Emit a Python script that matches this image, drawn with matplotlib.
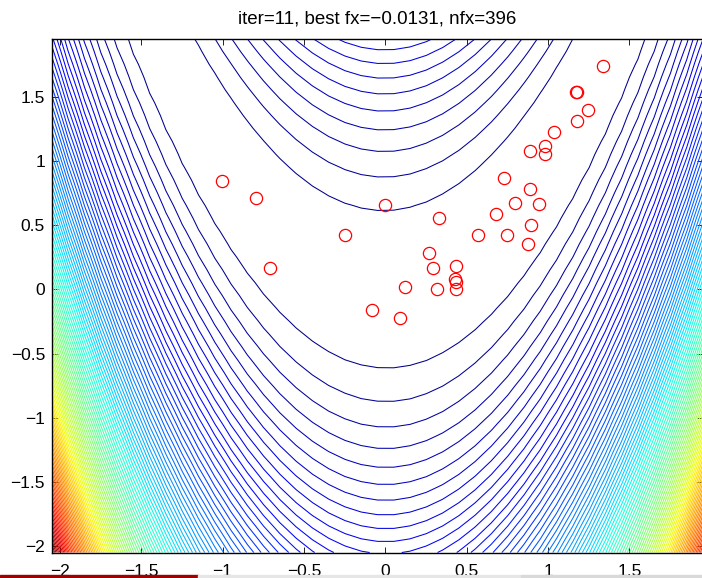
import numpy as np
import matplotlib
matplotlib.use("Agg")
import matplotlib.pyplot as plt
from matplotlib.patches import Rectangle

plt.rcParams['font.family'] = ['Liberation Sans', 'DejaVu Sans']

# grelha da funcao de Rosenbrock (passo 0.1, como no original)
grid_x = np.arange(-2.048, 2.0, 0.1)
grid_y = np.arange(-2.048, 2.0, 0.1)
n_levels = 100

# pontos da populacao
pop_x = [1.337, 1.169, 1.175, 1.246, 1.177, 1.038, 0.979, 0.979, 0.889, 0.730,
         0.889, 0.799, 0.946, 0.679, 0.897, 0.570, 0.750, 0.879, 0.329, 0.000,
         -0.250, 0.268, 0.290, 0.437, 0.429, 0.437, 0.437, 0.121, 0.319, -0.080,
         0.090, -0.709, -0.797, -1.001]
pop_y = [1.740, 1.533, 1.533, 1.398, 1.312, 1.222, 1.115, 1.053, 1.074, 0.864,
         0.781, 0.672, 0.661, 0.584, 0.503, 0.423, 0.423, 0.353, 0.553, 0.654,
         0.423, 0.282, 0.163, 0.181, 0.082, 0.054, 0.002, 0.020, 0.002, -0.159,
         -0.226, 0.163, 0.713, 0.843]

titulo = "iter=11, best fx=\u22120.0131, nfx=396"
ticks = [-2, -1.5, -1, -0.5, 0, 0.5, 1, 1.5]

X, Y = np.meshgrid(grid_x, grid_y)
Z = 100 * (Y - X ** 2) ** 2 + (1 - X) ** 2
levels = np.linspace(Z.min(), Z.max(), n_levels + 2)[1:-1]

W, H = 702, 578
fig = plt.figure(figsize=(W / 100, H / 100), dpi=100)
ax = fig.add_axes([52 / W, (H - 552.5) / H, (703 - 52) / W, (552.5 - 38.5) / H])

ax.contour(X, Y, Z, levels=levels, cmap="jet", vmin=Z.min(), vmax=Z.max(),
           linewidths=0.75)
ax.plot(pop_x, pop_y, "o", mfc="none", mec="red", ms=8.8, mew=0.9)

ax.set_xlim(grid_x[0], grid_x[-1])
ax.set_ylim(grid_y[0], grid_y[-1])
ax.set_xticks(ticks)
ax.set_yticks(ticks)
ax.set_xticklabels([("%g" % t).replace("-", "\u2212") for t in ticks])
ax.set_yticklabels([("%g" % t).replace("-", "\u2212") for t in ticks])
ax.tick_params(direction="in", top=True, right=True, length=4, width=0.6,
               labelsize=12.5)
ax.tick_params(axis="x", pad=8)
ax.tick_params(axis="y", pad=5)
for s in ax.spines.values():
    s.set_linewidth(1.0)
ax.set_title(titulo, fontsize=13.5, pad=10.5)

# barra no fundo da captura
fig.patches.append(Rectangle((0, 0), 198 / W, 3 / H, transform=fig.transFigure,
                             color="#a00000", zorder=5))
fig.patches.append(Rectangle((198 / W, 0), (521 - 198) / W, 3 / H,
                             transform=fig.transFigure, color="#e6e6e6", zorder=5))
fig.patches.append(Rectangle((521 / W, 0), (W - 521) / W, 3 / H,
                             transform=fig.transFigure, color="#d9d9d9", zorder=5))

fig.savefig("out.png", dpi=100)
